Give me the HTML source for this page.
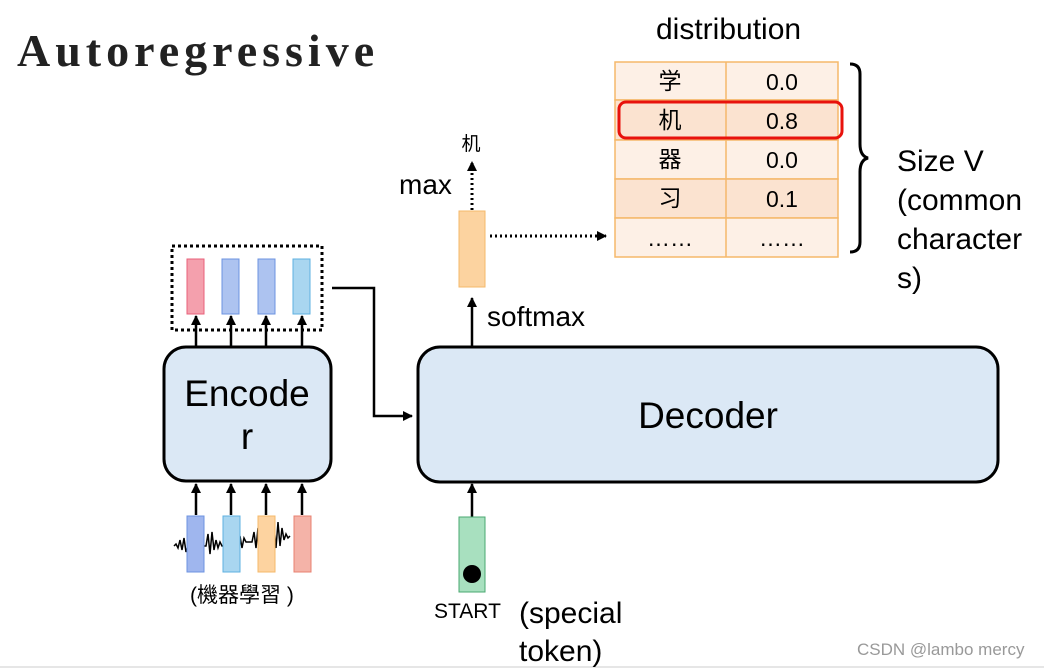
<!DOCTYPE html>
<html><head><meta charset="utf-8"><style>
body{margin:0;width:1044px;height:669px;background:#fff;overflow:hidden;position:relative;font-family:"Liberation Sans","Noto Sans CJK SC",sans-serif}
.a{position:absolute}
</style></head><body>
<div class="a" style="left:17px;top:24px;font-family:'Liberation Serif',serif;font-weight:bold;font-size:46px;letter-spacing:5px;color:#222">Autoregressive</div>
<div class="a" style="left:656px;top:13px;font-size:30px">distribution</div>
<svg class="a" style="left:0;top:0" width="1044" height="669">
<defs><marker id="ar" markerWidth="10" markerHeight="10" refX="9" refY="5" orient="auto" markerUnits="userSpaceOnUse"><path d="M0,0L10,5L0,10z" fill="#000"/></marker></defs>
<g stroke="#f5b86a" stroke-width="1.5">
<rect x="615" y="62" width="223" height="38" fill="#fdf0e6"/>
<rect x="615" y="100" width="223" height="40" fill="#fbe3d0"/>
<rect x="615" y="140" width="223" height="39" fill="#fdf0e6"/>
<rect x="615" y="179" width="223" height="39" fill="#fbe3d0"/>
<rect x="615" y="218" width="223" height="39" fill="#fdf0e6"/>
<line x1="726" y1="62" x2="726" y2="257"/>
</g>
<rect x="619" y="102" width="223" height="36" rx="7" fill="none" stroke="#e8120c" stroke-width="3"/>
<g font-size="23" text-anchor="middle" fill="#000">
<text x="670" y="89">学</text><text x="782" y="90">0.0</text>
<text x="670" y="128">机</text><text x="782" y="129">0.8</text>
<text x="670" y="167">器</text><text x="782" y="168">0.0</text>
<text x="670" y="206">习</text><text x="782" y="207">0.1</text>
<text x="670" y="246">……</text><text x="782" y="246">……</text>
</g>
<path d="M850,64 q10,0 10,10 v70 q0,12 8,14 q-8,2 -8,14 v70 q0,10 -10,10" fill="none" stroke="#000" stroke-width="3"/>
<rect x="459" y="211" width="26" height="76" fill="#fcd3a0" stroke="#f5b86a"/>
<line x1="472" y1="210" x2="472" y2="162" stroke="#000" stroke-width="3" stroke-dasharray="2,3" marker-end="url(#ar)"/>
<line x1="490" y1="236" x2="606" y2="236" stroke="#000" stroke-width="3" stroke-dasharray="2,3" marker-end="url(#ar)"/>
<text x="471" y="150" font-size="19" text-anchor="middle">机</text>
<line x1="472" y1="347" x2="472" y2="298" stroke="#000" stroke-width="2.5" marker-end="url(#ar)"/>
<rect x="418" y="347" width="580" height="135" rx="22" fill="#dbe8f5" stroke="#000" stroke-width="3"/>
<text x="708" y="428" font-size="37" text-anchor="middle">Decoder</text>
<line x1="472" y1="517" x2="472" y2="484" stroke="#000" stroke-width="2.5" marker-end="url(#ar)"/>
<rect x="459" y="517" width="26" height="75" fill="#a8e0bf" stroke="#4aa870"/>
<circle cx="472" cy="574" r="9" fill="#000"/>
<rect x="172" y="246" width="150" height="84" fill="none" stroke="#000" stroke-width="3" stroke-dasharray="3,3"/>
<rect x="187" y="259" width="17" height="55" fill="#f4a0ad" stroke="#e8607a"/>
<rect x="222" y="259" width="17" height="55" fill="#adc3f0" stroke="#6c93e0"/>
<rect x="258" y="259" width="17" height="55" fill="#adc3f0" stroke="#6c93e0"/>
<rect x="293" y="259" width="17" height="55" fill="#a9d6f0" stroke="#5eb0e0"/>
<g stroke="#000" stroke-width="2.5">
<line x1="196" y1="347" x2="196" y2="316" marker-end="url(#ar)"/>
<line x1="231" y1="347" x2="231" y2="316" marker-end="url(#ar)"/>
<line x1="266" y1="347" x2="266" y2="316" marker-end="url(#ar)"/>
<line x1="302" y1="347" x2="302" y2="316" marker-end="url(#ar)"/>
<line x1="196" y1="515" x2="196" y2="484" marker-end="url(#ar)"/>
<line x1="231" y1="515" x2="231" y2="484" marker-end="url(#ar)"/>
<line x1="266" y1="515" x2="266" y2="484" marker-end="url(#ar)"/>
<line x1="302" y1="515" x2="302" y2="484" marker-end="url(#ar)"/>
</g>
<path d="M332,288 H374 V416 H412" fill="none" stroke="#000" stroke-width="2.5" marker-end="url(#ar)"/>
<rect x="164" y="347" width="167" height="134" rx="22" fill="#dbe8f5" stroke="#000" stroke-width="3"/>
<text x="247" y="406" font-size="37" text-anchor="middle">Encode</text>
<text x="247" y="449" font-size="37" text-anchor="middle">r</text>
<path d="M174,546 l2,-2 l2,4 l2,-8 l2,10 l2,-12 l2,14 l2,-6 l2,4 l2,-14 l2,18 l2,-10 l2,4 l2,-2 h6 l2,-12 l2,20 l2,-22 l2,18 l2,-10 l2,8 l2,-6 l2,4 h4 l2,-14 l2,20 l2,-24 l2,22 l2,-16 l2,10 l2,-8 l2,12 l2,-10 l2,4 h6 l2,-10 l2,16 l2,-20 l2,18 l2,-10 l2,6 l2,-4 l2,4 h4 l2,-16 l2,22 l2,-26 l2,24 l2,-18 l2,12 l2,-6 l2,4 l2,-2" fill="none" stroke="#000" stroke-width="1.5"/>
<rect x="187" y="516" width="17" height="56" fill="#9fb6ee" stroke="#6c93e0"/>
<rect x="223" y="516" width="17" height="56" fill="#a9d6f0" stroke="#5eb0e0"/>
<rect x="258" y="516" width="17" height="56" fill="#fdd3a0" stroke="#f5b86a"/>
<rect x="294" y="516" width="17" height="56" fill="#f4b3a8" stroke="#e88070"/>
<line x1="0" y1="667" x2="1044" y2="667" stroke="#ccc"/>
</svg>
<div class="a" style="left:399px;top:169px;font-size:28px">max</div>
<div class="a" style="left:487px;top:301px;font-size:28px">softmax</div>
<div class="a" style="left:897px;top:142px;font-size:30px;line-height:39px">Size V<br>(common<br>character<br>s)</div>
<div class="a" style="left:190px;top:579px;font-size:21px">(機器學習 )</div>
<div class="a" style="left:434px;top:600px;font-size:21px">START</div>
<div class="a" style="left:519px;top:595px;font-size:30px;line-height:38px">(special<br>token)</div>
<div class="a" style="left:857px;top:640px;font-size:17px;color:#999">CSDN @lambo mercy</div>
</body></html>
